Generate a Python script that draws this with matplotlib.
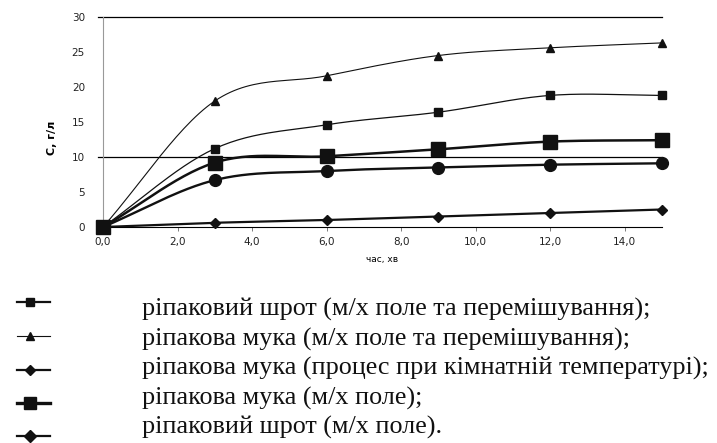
import numpy as np
import matplotlib
matplotlib.use("Agg")
import matplotlib.pyplot as plt
from matplotlib.lines import Line2D
from matplotlib.ticker import FuncFormatter

t = [0, 3, 6, 9, 12, 15]
shrot_mix = [0, 11.2, 14.6, 16.4, 18.8, 18.8]
muka_mix = [0, 18.0, 21.6, 24.5, 25.6, 26.3]
muka_room = [0, 0.6, 1.0, 1.5, 2.0, 2.5]
muka_field = [0, 9.2, 10.1, 11.1, 12.2, 12.4]
shrot_field = [0, 6.7, 8.0, 8.5, 8.9, 9.1]

labels = [
    "ріпаковий шрот (м/х поле та перемішування);",
    "ріпакова мука (м/х поле та перемішування);",
    "ріпакова мука (процес при кімнатній температурі);",
    "ріпакова мука (м/х поле);",
    "ріпаковий шрот (м/х поле).",
]
series = [shrot_mix, muka_mix, muka_room, muka_field, shrot_field]
markers = ["s", "^", "D", "s", "o"]
msizes = [5.5, 6, 5.5, 9.5, 8.5]
lws = [0.9, 0.8, 1.6, 1.8, 1.7]
leg_ms = [5.5, 5.5, 5.5, 8, 6]
leg_lw = [1.6, 0.8, 1.6, 2.4, 1.6]
leg_mk = ["s", "^", "D", "s", "D"]

W, H = 717, 443


def smooth(x, y, n=30):
    x = np.asarray(x, float)
    y = np.asarray(y, float)
    px = np.concatenate([[2 * x[0] - x[1]], x, [2 * x[-1] - x[-2]]])
    py = np.concatenate([[2 * y[0] - y[1]], y, [2 * y[-1] - y[-2]]])
    xs, ys = [], []
    for i in range(1, len(px) - 2):
        p0, p1, p2, p3 = (np.array([px[j], py[j]]) for j in range(i - 1, i + 3))
        c1 = p1 + (p2 - p0) / 6
        c2 = p2 - (p3 - p1) / 6
        s = np.linspace(0, 1, n)[:, None]
        b = (1 - s) ** 3 * p1 + 3 * (1 - s) ** 2 * s * c1 + 3 * (1 - s) * s ** 2 * c2 + s ** 3 * p2
        xs.extend(b[:, 0])
        ys.extend(b[:, 1])
    return xs, ys


fig = plt.figure(figsize=(W / 100, H / 100), dpi=100)
ax = fig.add_axes([103 / W, 1 - 227 / H, (662 - 103) / W, (227 - 17) / H])

for y, m, ms, lw in zip(series, markers, msizes, lws):
    sx, sy = smooth(t, y)
    ax.plot(sx, sy, color="#111111", lw=lw, zorder=3)
    ax.plot(t, y, linestyle="none", marker=m, ms=ms, color="#111111", zorder=4, clip_on=False)

ax.set_xlim(0, 15)
ax.set_ylim(0, 30)
ax.set_xticks(np.arange(0, 15, 2))
ax.set_yticks(np.arange(0, 31, 5))
ax.xaxis.set_major_formatter(FuncFormatter(lambda v, p: f"{v:.1f}".replace(".", ",")))
for yy in (10, 30):
    ax.axhline(yy, xmin=-5 / 559, xmax=1, color="black", lw=0.9, zorder=1, clip_on=False)

for s in ("top", "right"):
    ax.spines[s].set_visible(False)
ax.spines["left"].set_color("#999999")
ax.spines["bottom"].set_color("black")
ax.tick_params(axis="x", direction="out", length=3, width=0.6, color="#666666",
               labelsize=7.5, pad=4, labelcolor="#222222")
ax.tick_params(axis="y", length=0, labelsize=7.5, pad=13, labelcolor="#222222")
ax.set_xlabel("час, хв", fontsize=6.5, labelpad=6)
ax.set_ylabel("С, г/л", fontsize=8, fontweight="bold")
ax.yaxis.set_label_coords(-46 / 559, (227 - 138) / 210)

# legend drawn below the chart
hy = [302, 336, 370, 403, 436]
ty = [316, 345.5, 375, 404.5, 434]
for i, lab in enumerate(labels):
    yf = 1 - hy[i] / H
    fig.add_artist(Line2D([17 / W, 50 / W], [yf, yf], transform=fig.transFigure,
                          color="#111111", lw=leg_lw[i]))
    fig.add_artist(Line2D([30 / W], [yf], transform=fig.transFigure, linestyle="none",
                          marker=leg_mk[i], ms=leg_ms[i], color="#111111"))
    fig.text(142 / W, 1 - ty[i] / H, lab, family="Liberation Serif", fontsize=18.8,
             va="baseline", ha="left", color="#111111")

fig.savefig("out.png", dpi=100)
